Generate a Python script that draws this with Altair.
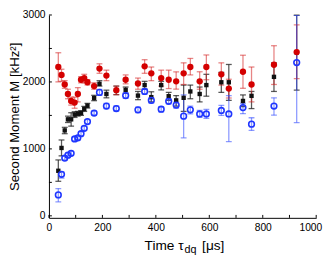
import altair as alt
import pandas as pd

# time tau_dq [us]
tau = [35, 47, 59, 71, 83, 96, 108, 120, 132, 144, 169, 189, 215, 252, 287, 333,
       358, 383, 420, 448, 476, 504, 529, 564, 589, 645, 673, 726, 758, 842, 927]

red_y = [2223, 2105, 1962, 1820, 1716, 1692, 1820, 2033, 2058, 1995, 1938, 2200, 2095, 1877, 2033, 1977,
         2233, 2129, 2058, 2033, 2009, 2129, 2223, 2009, 2223, 2114, 1901, 2152, 1962, 2257, 2446]
red_lo = [2001, 2009, 1905, 1749, 1654, 1607, 1702, 1985, 1987, 1955, 1891, 2129, 2019, 1810, 1972, 1891,
          2129, 2019, 1938, 1901, 1891, 1962, 2105, 1891, 2033, 1953, 1760, 1905, 1702, 1962, 2048]
red_hi = [2436, 2190, 2020, 1891, 1773, 1773, 1915, 2080, 2114, 2035, 1987, 2271, 2176, 1938, 2105, 2058,
          2332, 2223, 2176, 2176, 2152, 2285, 2351, 2152, 2403, 2285, 2040, 2399, 2223, 2541, 2854]

black_y = [673, 1014, 1276, 1441, 1441, 1512, 1526, 1536, 1597, 1645, 1759, 1972, 1820, 1877, 1881, 1796,
           1953, 1773, 1953, 1787, 1725, 1763, 1858, 1820, 1953, 1995, 1995, 1716, 1792, 2076, 2440]
black_lo = [516, 896, 1227, 1394, 1340, 1470, 1490, 1500, 1560, 1610, 1720, 1938, 1763, 1810, 1830, 1735,
            1891, 1702, 1881, 1725, 1640, 1560, 1749, 1702, 1787, 1844, 1725, 1631, 1602, 1858, 1877]
black_hi = [835, 1133, 1322, 1489, 1540, 1555, 1560, 1570, 1635, 1680, 1800, 2019, 1877, 1938, 1924, 1858,
            2009, 1853, 2009, 1844, 1796, 1953, 1953, 1924, 2114, 2143, 2261, 1806, 1858, 2285, 2996]

blue_y = [313, 621, 863, 906, 934, 1148, 1166, 1227, 1308, 1408, 1536, 1844, 1640, 1603, 1796, 1583,
          1858, 1725, 1593, 1711, 1654, 1489, 1583, 1522, 1522, 1574, 1522, 1617, 1369, 1640, 2289]
blue_lo = [209, 565, 833, 876, 904, 1118, 1136, 1197, 1278, 1378, 1506, 1800, 1600, 1563, 1756, 1543,
           1818, 1685, 1553, 1671, 1610, 1166, 1522, 1470, 1455, 1500, 1109, 1526, 1276, 1503, 1394]
blue_hi = [408, 658, 893, 936, 964, 1178, 1196, 1257, 1338, 1438, 1566, 1890, 1680, 1643, 1836, 1623,
           1898, 1765, 1633, 1751, 1700, 1806, 1640, 1575, 1590, 1650, 1796, 1678, 1465, 1763, 2995]

x_ticks = [0, 100, 200, 300, 400, 500, 600, 700, 800, 900, 1000]
x_labels = [0, 200, 400, 600, 800, 1000]
y_ticks = [0, 500, 1000, 1500, 2000, 2500, 3000]

W, H = 274, 208
FONT = "Liberation Sans"

red = pd.DataFrame({"t": tau, "y": red_y, "lo": red_lo, "hi": red_hi})
black = pd.DataFrame({"t": tau, "y": black_y, "lo": black_lo, "hi": black_hi})
blue = pd.DataFrame({"t": tau, "y": blue_y, "lo": blue_lo, "hi": blue_hi})

xs = alt.Scale(domain=[0, 1000], nice=False, zero=False)
ys = alt.Scale(domain=[-30, 3000], nice=False, zero=False)

X = alt.X("t:Q", scale=xs,
          axis=alt.Axis(values=x_labels, ticks=False, grid=False, labelPadding=5, format="d",
                        labelFlush=False, title=None, domainColor="black",
                        labelOffset={"condition": {"test": "datum.value === 1000", "value": -6}, "value": 0},
                        labelColor="black", labelFontSize=10.5, labelFont=FONT))
Y = alt.Y("y:Q", scale=ys,
          axis=alt.Axis(values=y_ticks, ticks=False, grid=False, labelPadding=4, format="d",
                        labelFlush=False, title="Second Moment  M [kHz²]",
                        titleFontSize=13.5, titleFont=FONT, titleFontWeight="normal",
                        titlePadding=1, titleColor="black",
                        domainColor="black", labelColor="black", labelFontSize=10.5,
                        labelFont=FONT))


def bars(df, color, opacity, clip=False):
    rule = alt.Chart(df).mark_rule(color=color, opacity=opacity, strokeWidth=1.3, clip=clip).encode(
        x=alt.X("t:Q", scale=xs), y=alt.Y("lo:Q", scale=ys), y2="hi:Q")
    cap_lo = alt.Chart(df).mark_tick(color=color, opacity=opacity, orient="horizontal",
                                     size=6, thickness=1.3, clip=clip).encode(
        x=alt.X("t:Q", scale=xs), y=alt.Y("lo:Q", scale=ys))
    cap_hi = alt.Chart(df).mark_tick(color=color, opacity=opacity, orient="horizontal",
                                     size=6, thickness=1.3, clip=clip).encode(
        x=alt.X("t:Q", scale=xs), y=alt.Y("hi:Q", scale=ys))
    return [rule, cap_lo, cap_hi]


base = alt.Chart(red).mark_point(opacity=0).encode(x=X, y=Y)

layers = [base]
layers += bars(black, "#222222", 0.75)
layers += bars(red, "#d42020", 0.55)
layers += bars(blue, "#3048ff", 0.55, clip=True)

black_pts = alt.Chart(black).mark_square(color="#111111", size=20, opacity=1).encode(
    x=alt.X("t:Q", scale=xs), y=alt.Y("y:Q", scale=ys))
red_pts = alt.Chart(red).mark_circle(color="#d40000", size=42, opacity=1).encode(
    x=alt.X("t:Q", scale=xs), y=alt.Y("y:Q", scale=ys))
blue_pts = alt.Chart(blue).mark_point(color="#1f36ff", size=34, strokeWidth=1.6,
                                      filled=False, opacity=1).encode(
    x=alt.X("t:Q", scale=xs), y=alt.Y("y:Q", scale=ys))
layers += [black_pts, red_pts, blue_pts]

# inward axis ticks
xt = pd.DataFrame({"v": x_ticks})
yt = pd.DataFrame({"v": y_ticks})
layers.append(alt.Chart(xt).mark_rule(color="black", strokeWidth=1).encode(
    x=alt.X("v:Q", scale=xs), y=alt.value(H), y2=alt.value(H - 3)))
layers.append(alt.Chart(yt).mark_rule(color="black", strokeWidth=1).encode(
    y=alt.Y("v:Q", scale=ys), x=alt.value(0), x2=alt.value(3)))

# x title with subscript
one = pd.DataFrame({"a": [0]})
layers.append(alt.Chart(one).mark_text(text="Time  τ", align="right", baseline="alphabetic",
                                       font=FONT, fontSize=14, color="black").encode(
    x=alt.value(138), y=alt.value(241)))
layers.append(alt.Chart(one).mark_text(text="dq", align="left", baseline="alphabetic",
                                       font=FONT, fontSize=11, color="black").encode(
    x=alt.value(139), y=alt.value(244)))
layers.append(alt.Chart(one).mark_text(text="[μs]", align="left", baseline="alphabetic",
                                       font=FONT, fontSize=14, color="black").encode(
    x=alt.value(157), y=alt.value(241)))

chart = alt.layer(*layers).properties(
    width=W, height=H,
    autosize=alt.AutoSizeParams(type="none"),
    padding={"left": 42, "top": 4, "right": 8, "bottom": 38},
).configure_view(stroke=None).configure_axis(domainWidth=1)

chart.save("out.html", embed_options={"renderer": "svg", "actions": False})
